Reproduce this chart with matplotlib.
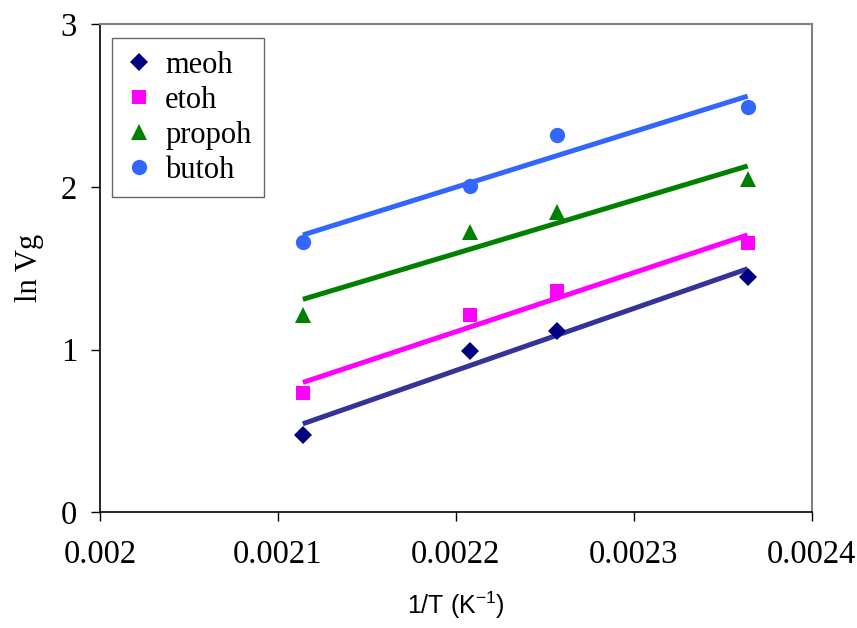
import matplotlib.pyplot as plt
import numpy as np

plt.rcParams['mathtext.fontset'] = 'custom'
plt.rcParams['mathtext.rm'] = 'Liberation Sans'

# 1/T for the four column temperatures (K^-1)
inv_T = [0.002114, 0.002208, 0.002257, 0.002364]

# ln Vg for each alcohol
meoh   = [0.475, 0.993, 1.116, 1.446]
etoh   = [0.735, 1.210, 1.358, 1.653]
propoh = [1.214, 1.720, 1.847, 2.049]
butoh  = [1.662, 2.005, 2.318, 2.492]

series = [
    ('meoh',   meoh,   'D', 9.5,  '#000080', '#333399'),
    ('etoh',   etoh,   's', 10.5, '#FF00FF', '#FF00FF'),
    ('propoh', propoh, '^', 12,   '#008000', '#008000'),
    ('butoh',  butoh,  'o', 11,   '#3366FF', '#3366FF'),
]

fig = plt.figure(figsize=(8.57, 6.28), dpi=100)
ax = fig.add_axes([100 / 857, 1 - 512.3 / 628, 711.7 / 857, 488.3 / 628])

x = np.array(inv_T)
xs = np.array([x.min(), x.max()])
for name, y, mk, ms, mcol, lcol in series:
    ax.plot(x, y, linestyle='none', marker=mk, markersize=ms,
            color=mcol, markeredgewidth=0, label=name, zorder=3)
    # linear trend line over the measured range
    slope, icpt = np.polyfit(x, y, 1)
    ax.plot(xs, slope * xs + icpt, color=lcol, linewidth=3.6,
            solid_capstyle='butt', zorder=2)

ax.set_xlim(0.002, 0.0024)
ax.set_ylim(0, 3)
ax.set_xticks([0.002, 0.0021, 0.0022, 0.0023, 0.0024])
ax.set_xticklabels(['0.002', '0.0021', '0.0022', '0.0023', '0.0024'])
ax.set_yticks([0, 1, 2, 3])
ax.set_yticklabels(['0', '1', '2', '3'])

for lab in ax.get_xticklabels() + ax.get_yticklabels():
    lab.set_fontfamily('Liberation Serif')
    lab.set_fontsize(23.5)
ax.tick_params(axis='x', direction='out', length=6.5, width=1, pad=13)
ax.tick_params(axis='y', direction='out', length=6.5, width=1, pad=10)

for side in ['left', 'bottom']:
    ax.spines[side].set_color('black')
    ax.spines[side].set_linewidth(1.2)
for side in ['top', 'right']:
    ax.spines[side].set_color('#808080')
    ax.spines[side].set_linewidth(1.5)

ax.set_ylabel('ln Vg', fontfamily='Liberation Serif', fontsize=22, labelpad=12)
ax.set_xlabel(r'1/T (K$^{\mathrm{-1}}$)', fontfamily='Liberation Sans',
              fontsize=18, labelpad=14)

leg = ax.legend(loc='upper left', bbox_to_anchor=(111.7 / 857, 1 - 38.3 / 628),
                bbox_transform=fig.transFigure, frameon=True, fancybox=False,
                prop={'family': 'Liberation Serif', 'size': 22},
                handlelength=1.0, handletextpad=0.35, labelspacing=0.2,
                borderpad=0.4, borderaxespad=0, numpoints=1)
leg.get_frame().set_edgecolor('#404040')
leg.get_frame().set_linewidth(1.0)

fig.savefig('out.png', dpi=100)
